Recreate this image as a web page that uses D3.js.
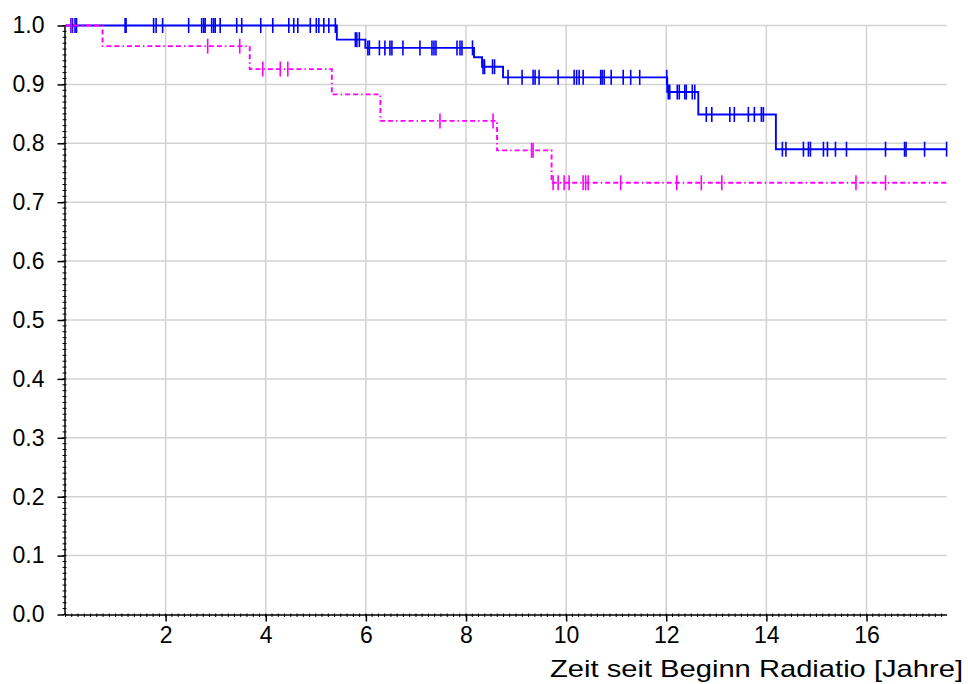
<!DOCTYPE html>
<html>
<head>
<meta charset="utf-8">
<script src="https://cdn.jsdelivr.net/npm/d3@7"></script>
<style>
  body { margin: 0; background: #fff; }
  text { font-family: "Liberation Sans", Arial, sans-serif; fill: #000; }
</style>
</head>
<body>
<div id="chart"></div>
<script>
// step data (time in years, survival)
var blueTimes = [0, 5.42, 5.99, 8.16, 8.32, 8.74, 12.02, 12.64, 14.19];
var blueSurv  = [1.0, 0.976, 0.962, 0.946, 0.930, 0.912, 0.887, 0.849, 0.790];
var blueCensored = [0.11, 0.14, 0.19, 0.22, 1.19, 1.21, 1.76, 1.81, 1.94, 2.46, 2.72, 2.76, 2.79,
    2.92, 2.96, 2.99, 3.09, 3.42, 3.52, 3.90, 4.14, 4.46, 4.56, 4.64, 4.89, 5.01, 5.06, 5.16, 5.26, 5.39,
    5.79, 5.82, 5.87,
    6.04, 6.07, 6.27, 6.38, 6.48, 6.52, 6.74, 7.08, 7.32, 7.36, 7.40, 7.82, 7.88, 7.92, 8.13,
    8.34, 8.37, 8.53, 8.57,
    8.84, 9.12, 9.34, 9.38, 9.46, 9.84, 10.16, 10.21, 10.26, 10.34, 10.69, 10.72, 10.76, 10.90,
    11.14, 11.29, 11.47, 12.01,
    12.04, 12.07, 12.22, 12.26, 12.37, 12.40, 12.52, 12.57,
    12.80, 12.91, 13.27, 13.36, 13.64, 13.76, 13.90, 13.94,
    14.32, 14.39, 14.74, 14.84, 14.88, 15.14, 15.22, 15.38, 15.60, 16.38, 16.76, 16.79, 17.16, 17.60];

var pinkTimes = [0, 0.74, 3.68, 5.32, 6.29, 8.62, 9.71];
var pinkSurv  = [1.0, 0.965, 0.926, 0.883, 0.838, 0.788, 0.733];
var pinkCensored = [0.12, 2.84, 3.48, 3.94, 4.29, 4.44, 7.48, 8.54, 9.31, 9.34,
    9.74, 9.84, 9.96, 10.06, 10.34, 10.39, 10.44, 11.09, 12.21, 12.70, 13.11, 15.79, 16.38];

var xTicks = [2, 4, 6, 8, 10, 12, 14, 16];
var yTicks = [0, 0.1, 0.2, 0.3, 0.4, 0.5, 0.6, 0.7, 0.8, 0.9, 1.0];
var xTitle = "Zeit seit Beginn Radiatio [Jahre]";
var xMax = 17.6;

var W = 968, H = 684;

var svg = d3.select("#chart")
  .append("svg")
    .attr("width", W)
    .attr("height", H);

var x = d3.scaleLinear().domain([0, xMax]).range([65.5, 946.6]);
var y = d3.scaleLinear().domain([0, 1]).range([614.5, 25.5]);

// grid
svg.append("g").selectAll("line.h")
  .data(yTicks.filter(function(d) { return d > 0; }))
  .enter().append("line")
    .attr("x1", x(0)).attr("x2", x(xMax))
    .attr("y1", function(d) { return y(d); })
    .attr("y2", function(d) { return y(d); })
    .attr("stroke", "#d2d2d2").attr("stroke-width", 1.5);

svg.append("g").selectAll("line.v")
  .data(xTicks)
  .enter().append("line")
    .attr("x1", function(d) { return x(d); })
    .attr("x2", function(d) { return x(d); })
    .attr("y1", y(1)).attr("y2", y(0))
    .attr("stroke", "#d2d2d2").attr("stroke-width", 1.5);

// axes
var yAxis = svg.append("g")
    .attr("transform", "translate(" + (x(0) - 1) + ",0)")
    .call(d3.axisLeft(y).tickValues(yTicks).tickFormat(d3.format(".1f"))
      .tickSize(7).tickPadding(13).tickSizeOuter(0));

var xAxis = svg.append("g")
    .attr("transform", "translate(0," + y(0) + ")")
    .call(d3.axisBottom(x).tickValues(xTicks).tickFormat(d3.format("d"))
      .tickSize(7).tickPadding(5).tickSizeOuter(0));

[xAxis, yAxis].forEach(function(a) {
  a.select(".domain").attr("stroke", "#000").attr("stroke-width", 1.5);
  a.selectAll(".tick line").attr("stroke", "#000").attr("stroke-width", 1.5);
  a.selectAll(".tick text")
    .attr("font-size", 23)
    .attr("font-family", "Liberation Sans, Arial, sans-serif");
});

// minor ticks
var yMinor = d3.range(0, 1.0001, 0.01);
svg.append("g").selectAll("line")
  .data(yMinor)
  .enter().append("line")
    .attr("x1", x(0) - 3).attr("x2", x(0) + 1)
    .attr("y1", function(d) { return y(d); })
    .attr("y2", function(d) { return y(d); })
    .attr("stroke", "#000").attr("stroke-width", 1);

var xMinor = d3.range(0, xMax, 0.125);
svg.append("g").selectAll("line")
  .data(xMinor)
  .enter().append("line")
    .attr("x1", function(d) { return x(d); })
    .attr("x2", function(d) { return x(d); })
    .attr("y1", y(0) - 1).attr("y2", y(0) + 2.5)
    .attr("stroke", "#000").attr("stroke-width", 1);

// x title (glyphs are drawn wide in the original)
svg.append("text")
    .attr("x", 550).attr("y", 677)
    .attr("font-size", 24)
    .attr("textLength", 413)
    .attr("lengthAdjust", "spacingAndGlyphs")
    .text(xTitle);

function survivalAt(times, surv, t) {
  var i = d3.bisectRight(times, t) - 1;
  return surv[Math.max(0, i)];
}

function drawCurve(times, surv, censored, color, dash) {
  var pts = times.map(function(t, i) { return [t, surv[i]]; });
  pts.push([xMax, surv[surv.length - 1]]);

  var line = d3.line()
      .x(function(d) { return x(d[0]); })
      .y(function(d) { return y(d[1]); })
      .curve(d3.curveStepAfter);

  svg.append("path")
      .datum(pts)
      .attr("fill", "none")
      .attr("stroke", color)
      .attr("stroke-width", 1.9)
      .attr("stroke-dasharray", dash)
      .attr("d", line);

  svg.append("g").selectAll("line")
    .data(censored)
    .enter().append("line")
      .attr("x1", function(d) { return x(d); })
      .attr("x2", function(d) { return x(d); })
      .attr("y1", function(d) { return y(survivalAt(times, surv, d)) - 7.5; })
      .attr("y2", function(d) { return y(survivalAt(times, surv, d)) + 7.5; })
      .attr("stroke", color)
      .attr("stroke-width", 1.6);
}

drawCurve(blueTimes, blueSurv, blueCensored, "#0000ff", null);
drawCurve(pinkTimes, pinkSurv, pinkCensored, "#ff00ff", "5,3,5,3,1.5,3");
</script>
</body>
</html>
